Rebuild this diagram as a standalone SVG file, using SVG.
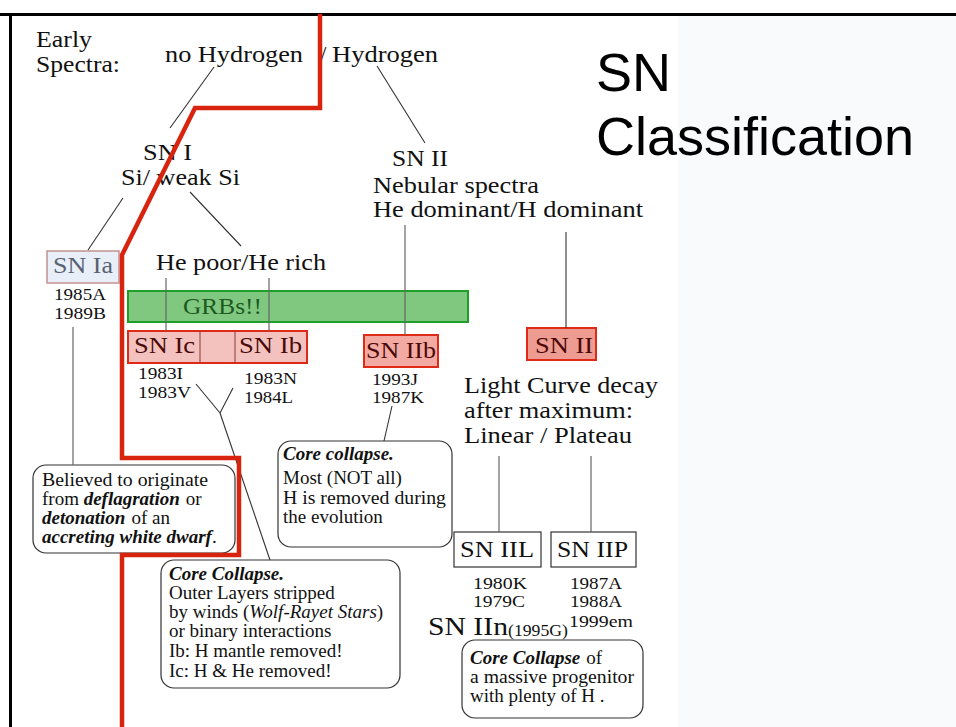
<svg xmlns="http://www.w3.org/2000/svg" width="956" height="727" viewBox="0 0 956 727">
<style>
.t{font-family:"Liberation Serif","Times New Roman",serif;fill:#111}
.big{font-size:23px}
.sm{font-size:17px}
.box{font-size:19px}
.bi{font-weight:bold;font-style:italic}
.it{font-style:italic}
.c{text-anchor:middle}
.ln{stroke:#333;stroke-width:1.1;fill:none}
.lg{stroke:#666;stroke-width:1.2;fill:none}
.rb{fill:#fff;stroke:#333;stroke-width:1.2}
</style>
<rect x="0" y="0" width="956" height="727" fill="#fff"/>
<rect x="678" y="16" width="278" height="711" fill="#f9fafc"/>
<g id="frame" stroke="#000" stroke-width="3">
<line x1="0" y1="14.5" x2="956" y2="14.5"/>
<line x1="10.5" y1="14" x2="10.5" y2="727"/>
</g>
<g id="title" style="font-family:'Liberation Sans',Arial,sans-serif;font-size:54px;fill:#000">
<text x="596" y="91">SN</text>
<text x="596" y="155">Classification</text>
</g>
<g id="early" class="t big">
<text x="36" y="47" textLength="56" lengthAdjust="spacingAndGlyphs">Early</text>
<text x="36" y="72" textLength="84" lengthAdjust="spacingAndGlyphs">Spectra:</text>
</g>
<g id="noH"><text class="t big" x="165" y="62" textLength="138" lengthAdjust="spacingAndGlyphs">no Hydrogen</text></g>
<g id="H"><text class="t big" x="320" y="62">/</text><text class="t big" x="332" y="62" textLength="106" lengthAdjust="spacingAndGlyphs">Hydrogen</text></g>
<g id="SNI" class="t big">
<text x="143" y="160" textLength="49" lengthAdjust="spacingAndGlyphs">SN I</text>
<text x="121" y="185" textLength="119" lengthAdjust="spacingAndGlyphs">Si/ weak Si</text>
</g>
<g id="SNII" class="t big">
<text x="392" y="166" textLength="56" lengthAdjust="spacingAndGlyphs">SN II</text>
<text x="373" y="193" textLength="166" lengthAdjust="spacingAndGlyphs">Nebular spectra</text>
<text x="373" y="217" textLength="270" lengthAdjust="spacingAndGlyphs">He dominant/H dominant</text>
</g>
<g id="Hepoor"><text class="t big" x="156" y="270" textLength="170" lengthAdjust="spacingAndGlyphs">He poor/He rich</text></g>
<g id="SNIa">
<rect x="47" y="251" width="72" height="32" fill="#e9eff8" stroke="#c49090" stroke-width="1.5"/>
<text class="t big" x="53" y="273" textLength="60" lengthAdjust="spacingAndGlyphs" style="fill:#5a6272">SN Ia</text>
<text class="t sm" x="54" y="300" textLength="52" lengthAdjust="spacingAndGlyphs">1985A</text>
<text class="t sm" x="54" y="319" textLength="52" lengthAdjust="spacingAndGlyphs">1989B</text>
</g>
<g id="GRB">
<rect x="128" y="291" width="340" height="31" fill="#80c880" stroke="#1f9e2a" stroke-width="2"/>
<text class="t big" x="183" y="314" textLength="79" lengthAdjust="spacingAndGlyphs" style="fill:#1d5a22">GRBs!!</text>
</g>
<g id="SNIcIb">
<rect x="128" y="331" width="179" height="32" fill="#f4c2be" stroke="#e02a18" stroke-width="2"/>
<line x1="200" y1="331" x2="200" y2="363" stroke="#8a3a30" stroke-width="1"/>
<line x1="235" y1="331" x2="235" y2="363" stroke="#8a3a30" stroke-width="1"/>
<text class="t big" x="134" y="353" textLength="61" lengthAdjust="spacingAndGlyphs" style="fill:#4a0a0a">SN Ic</text>
<text class="t big" x="239" y="353" textLength="63" lengthAdjust="spacingAndGlyphs" style="fill:#4a0a0a">SN Ib</text>
<text class="t sm" x="138" y="379" textLength="45" lengthAdjust="spacingAndGlyphs">1983I</text>
<text class="t sm" x="138" y="398" textLength="53" lengthAdjust="spacingAndGlyphs">1983V</text>
<text class="t sm" x="244" y="384" textLength="53" lengthAdjust="spacingAndGlyphs">1983N</text>
<text class="t sm" x="244" y="403" textLength="49" lengthAdjust="spacingAndGlyphs">1984L</text>
</g>
<g id="SNIIb">
<rect x="364" y="335" width="74" height="32" fill="#f2aaa2" stroke="#e02a18" stroke-width="2"/>
<text class="t big" x="366" y="358" textLength="70" lengthAdjust="spacingAndGlyphs" style="fill:#4a0808">SN IIb</text>
<text class="t sm" x="372" y="385" textLength="46" lengthAdjust="spacingAndGlyphs">1993J</text>
<text class="t sm" x="372" y="403" textLength="52" lengthAdjust="spacingAndGlyphs">1987K</text>
</g>
<g id="SNIIbox">
<rect x="527" y="328" width="69" height="32" fill="#ee9c92" stroke="#e02a18" stroke-width="2"/>
<text class="t big" x="535" y="353" textLength="58" lengthAdjust="spacingAndGlyphs" style="fill:#4a0808">SN II</text>
</g>
<g id="lightcurve" class="t big">
<text x="464" y="393" textLength="194" lengthAdjust="spacingAndGlyphs">Light Curve decay</text>
<text x="464" y="418" textLength="169" lengthAdjust="spacingAndGlyphs">after maximum:</text>
<text x="464" y="443" textLength="168" lengthAdjust="spacingAndGlyphs">Linear / Plateau</text>
</g>
<g id="SNIIL">
<rect x="454" y="532" width="87" height="35" class="rb"/>
<text class="t big" x="460" y="557" textLength="74" lengthAdjust="spacingAndGlyphs">SN IIL</text>
<text class="t sm" x="473" y="589" textLength="54" lengthAdjust="spacingAndGlyphs">1980K</text>
<text class="t sm" x="473" y="607" textLength="52" lengthAdjust="spacingAndGlyphs">1979C</text>
</g>
<g id="SNIIP">
<rect x="551" y="532" width="85" height="35" class="rb"/>
<text class="t big" x="557" y="557" textLength="71" lengthAdjust="spacingAndGlyphs">SN IIP</text>
<text class="t sm" x="570" y="589" textLength="52" lengthAdjust="spacingAndGlyphs">1987A</text>
<text class="t sm" x="570" y="607" textLength="52" lengthAdjust="spacingAndGlyphs">1988A</text>
<text class="t sm" x="569" y="627" textLength="64" lengthAdjust="spacingAndGlyphs">1999em</text>
</g>
<g id="SNIIn">
<text class="t" x="428" y="635" textLength="80" lengthAdjust="spacingAndGlyphs" style="font-size:26px">SN IIn</text>
<text class="t" x="508" y="636" textLength="60" lengthAdjust="spacingAndGlyphs" style="font-size:17px">(1995G)</text>
</g>
<g id="noteIa">
<rect x="33" y="465" width="202" height="88" rx="13" class="rb"/>
<text class="t box" x="42" y="486" textLength="166" lengthAdjust="spacingAndGlyphs">Believed to originate</text>
<text class="t box" x="42" y="505">from <tspan class="bi">deflagration</tspan><tspan dx="6">or</tspan></text>
<text class="t box" x="42" y="524"><tspan class="bi">detonation</tspan><tspan dx="6">of an</tspan></text>
<text class="t box" x="42" y="543"><tspan class="bi">accreting white dwarf</tspan>.</text>
</g>
<g id="noteIIb">
<rect x="278" y="441" width="174" height="106" rx="13" class="rb"/>
<text class="t box bi" x="283" y="460">Core collapse.</text>
<text class="t box" x="283" y="484">Most (NOT all)</text>
<text class="t box" x="283" y="504" textLength="163" lengthAdjust="spacingAndGlyphs">H is removed during</text>
<text class="t box" x="283" y="523">the evolution</text>
</g>
<g id="noteIbc">
<rect x="161" y="560" width="239" height="128" rx="13" class="rb"/>
<text class="t box bi" x="169" y="580">Core Collapse.</text>
<text class="t box" x="169" y="599">Outer Layers stripped</text>
<text class="t box" x="169" y="618">by winds (<tspan class="it">Wolf-Rayet Stars</tspan>)</text>
<text class="t box" x="169" y="637">or binary interactions</text>
<text class="t box" x="169" y="657">Ib: H mantle removed!</text>
<text class="t box" x="169" y="677">Ic: H &amp; He removed!</text>
</g>
<g id="noteIIn">
<rect x="462" y="640" width="181" height="78" rx="13" class="rb"/>
<text class="t box" x="470" y="664"><tspan class="bi">Core Collapse</tspan><tspan dx="6">of</tspan></text>
<text class="t box" x="470" y="683" textLength="164" lengthAdjust="spacingAndGlyphs">a massive progenitor</text>
<text class="t box" x="470" y="702">with plenty of H .</text>
</g>
<g id="connectors">
<line class="ln" x1="214" y1="67" x2="170" y2="128"/>
<line class="ln" x1="377" y1="66" x2="425" y2="143"/>
<line class="ln" x1="123" y1="198" x2="88" y2="250"/>
<line class="ln" x1="190" y1="192" x2="241" y2="246"/>
<line class="lg" x1="166" y1="278" x2="166" y2="331"/>
<line class="lg" x1="269" y1="278" x2="269" y2="331"/>
<line class="lg" x1="405" y1="225" x2="405" y2="335"/>
<line class="ln" x1="566" y1="232" x2="566" y2="328"/>
<line class="lg" x1="73" y1="327" x2="73" y2="465"/>
<line class="ln" x1="196" y1="384" x2="220" y2="413"/>
<line class="ln" x1="233" y1="388" x2="220" y2="413"/>
<line class="ln" x1="220" y1="413" x2="270" y2="560"/>
<line class="ln" x1="392" y1="406" x2="384" y2="441"/>
<line class="lg" x1="499" y1="456" x2="499" y2="532"/>
<line class="lg" x1="591" y1="456" x2="591" y2="532"/>
</g>
<g id="divider">
<path d="M320,14 V108 H195 L122,255 V458 H239 V555 H122 V727" fill="none" stroke="#d8240e" stroke-width="4.5"/>
</g>
</svg>
